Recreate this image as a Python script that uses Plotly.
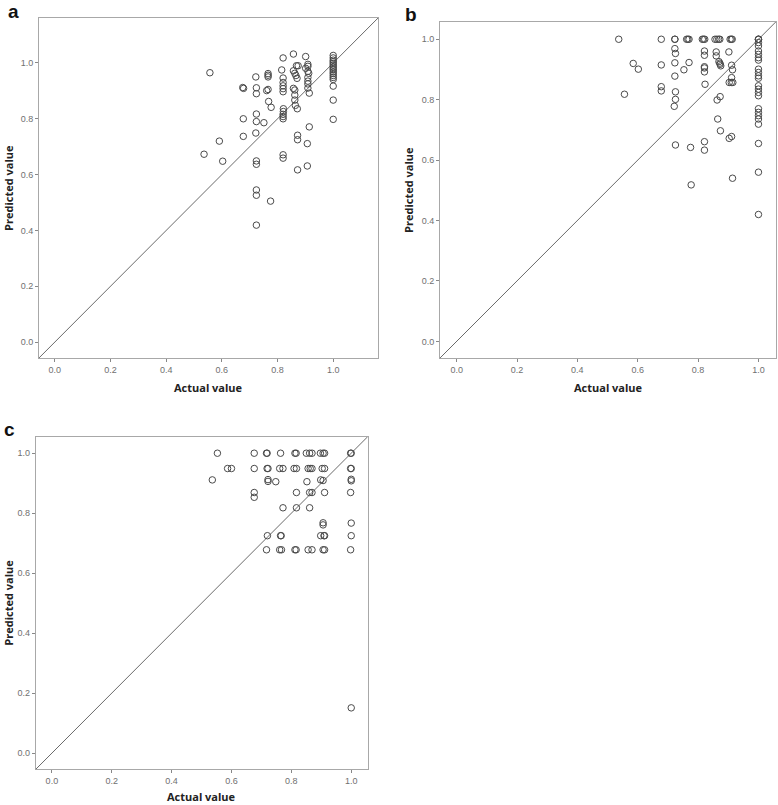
import plotly.graph_objects as go

# ---------------- data ----------------
a_actual = [0.536, 0.557, 0.591, 0.603, 0.675, 0.678, 0.677, 0.677,
            0.722, 0.724, 0.724, 0.724, 0.724, 0.722, 0.724, 0.724, 0.724, 0.724, 0.724,
            0.751, 0.766, 0.766, 0.766, 0.761, 0.766, 0.768, 0.777, 0.775,
            0.815, 0.820, 0.820, 0.820, 0.820, 0.820, 0.820,
            0.821, 0.821, 0.820, 0.820, 0.820, 0.820, 0.820,
            0.857, 0.857, 0.862, 0.866, 0.868, 0.857, 0.862, 0.862, 0.862, 0.864, 0.871,
            0.870, 0.872, 0.872, 0.872, 0.874,
            0.901, 0.901, 0.909, 0.909, 0.909, 0.912, 0.909, 0.909, 0.909, 0.909,
            0.914, 0.914, 0.907, 0.907,
            1.0, 1.0, 1.0, 1.0, 1.0, 1.0, 1.0, 1.0, 1.0, 1.0, 1.0, 1.0, 1.0, 1.0,
            1.0, 1.0, 1.0]
a_pred = [0.673, 0.965, 0.720, 0.648, 0.912, 0.909, 0.800, 0.737,
          0.950, 0.911, 0.890, 0.817, 0.790, 0.749, 0.649, 0.637, 0.545, 0.526, 0.419,
          0.786, 0.962, 0.956, 0.950, 0.901, 0.905, 0.862, 0.841, 0.505,
          0.975, 1.018, 0.946, 0.930, 0.918, 0.908, 0.897,
          0.836, 0.826, 0.816, 0.808, 0.800, 0.671, 0.659,
          1.032, 0.972, 0.963, 0.955, 0.990, 0.909, 0.903, 0.885, 0.867, 0.848, 0.836,
          0.945, 0.741, 0.725, 0.617, 0.990,
          1.023, 0.981, 0.995, 0.988, 0.970, 0.963, 0.948, 0.935, 0.925, 0.910,
          0.892, 0.771, 0.711, 0.631,
          1.027, 1.018, 1.010, 1.004, 0.998, 0.992, 0.986, 0.980, 0.975, 0.968, 0.962, 0.955, 0.948, 0.941,
          0.917, 0.867, 0.798]

b_actual = [0.537, 0.678, 0.723, 0.723, 0.762, 0.766, 0.770, 0.814, 0.818, 0.822,
            0.856, 0.862, 0.868, 0.872, 0.906, 0.910, 0.913,
            0.556, 0.585, 0.602,
            0.678, 0.678, 0.678,
            0.723, 0.725, 0.723, 0.723, 0.725, 0.725, 0.721, 0.725,
            0.753, 0.770, 0.775, 0.777,
            0.821, 0.821, 0.821, 0.821, 0.821, 0.823, 0.821, 0.821,
            0.860, 0.860, 0.869, 0.873, 0.875, 0.872,
            0.863, 0.873, 0.865, 0.874,
            0.902, 0.911, 0.914, 0.911, 0.903, 0.910, 0.915, 0.903, 0.911, 0.914,
            1.0, 1.0, 1.0, 1.0, 1.0, 1.0, 1.0, 1.0, 1.0, 1.0, 1.0, 1.0, 1.0,
            1.0, 1.0, 1.0, 1.0, 1.0, 1.0, 1.0, 1.0, 1.0, 1.0, 1.0, 1.0]
b_pred = [1.0, 1.0, 1.0, 1.0, 1.0, 1.0, 1.0, 1.0, 1.0, 1.0,
          1.0, 1.0, 1.0, 1.0, 1.0, 1.0, 1.0,
          0.818, 0.920, 0.901,
          0.915, 0.843, 0.829,
          0.969, 0.953, 0.922, 0.878, 0.826, 0.801, 0.778, 0.650,
          0.899, 0.923, 0.642, 0.518,
          0.961, 0.947, 0.909, 0.905, 0.892, 0.851, 0.661, 0.633,
          0.958, 0.945, 0.926, 0.917, 0.912, 0.921,
          0.799, 0.810, 0.736, 0.697,
          0.958, 0.914, 0.899, 0.873, 0.857, 0.857, 0.857, 0.672, 0.678, 0.540,
          1.0, 1.0, 1.0, 0.989, 0.978, 0.961, 0.950, 0.939, 0.931, 0.901, 0.890, 0.879, 0.871,
          0.846, 0.835, 0.824, 0.813, 0.770, 0.758, 0.747, 0.736, 0.719, 0.655, 0.560, 0.420]

c_actual = [0.553, 0.676, 0.717, 0.719, 0.764, 0.812, 0.816, 0.850, 0.861, 0.869, 0.897, 0.906, 0.911, 0.998, 1.0,
            0.587, 0.600, 0.676, 0.719, 0.722, 0.761, 0.772, 0.809, 0.817, 0.856, 0.863, 0.869, 0.903, 0.911, 0.998, 1.0,
            0.536, 0.722, 0.722, 0.748, 0.852, 0.898, 0.906, 1.0, 1.0,
            0.676, 0.676, 0.817, 0.861, 0.869, 0.911, 0.998,
            0.772, 0.817, 0.861,
            0.906, 0.906, 1.0,
            0.720, 0.764, 0.766, 0.898, 0.909, 0.911, 1.0,
            0.717, 0.761, 0.767, 0.812, 0.816, 0.856, 0.869, 0.906, 0.911, 0.998,
            1.0]
c_pred = [1.0] * 15 + [0.949] * 16 + \
         [0.911, 0.912, 0.906, 0.905, 0.905, 0.911, 0.909, 0.913, 0.908] + \
         [0.869, 0.853, 0.869, 0.869, 0.869, 0.869, 0.869] + \
         [0.818, 0.818, 0.818] + \
         [0.768, 0.761, 0.767] + \
         [0.725] * 7 + \
         [0.678] * 10 + \
         [0.151]

tick_vals = [0.0, 0.2, 0.4, 0.6, 0.8, 1.0]
tick_text = ["0.0", "0.2", "0.4", "0.6", "0.8", "1.0"]

panels = [
    # letter, actual, predicted, x-domain, y-domain, axis range, x-title offset, y-title offset (px)
    ("a", a_actual, a_pred, [0.0501, 0.4859], [0.5553, 0.9776], [-0.057, 1.161], 30, 31),
    ("b", b_actual, b_pred, [0.5656, 0.9974], [0.5553, 0.9730], [-0.055, 1.058], 30, 31),
    ("c", c_actual, c_pred, [0.0459, 0.4726], [0.0443, 0.4575], [-0.054, 1.055], 27, 28),
]

W, H = 778, 805
fig = go.Figure()

label_font = dict(family="Open Sans, Arial, sans-serif", size=11, color="#222222")
tick_font = dict(family="Liberation Sans, Arial, sans-serif", size=9, color="#707070")

for i, (letter, xs, ys, xd, yd, rng, xoff, yoff) in enumerate(panels):
    n = "" if i == 0 else str(i + 1)
    xa, ya = "x" + n, "y" + n
    # diagonal reference line (corner to corner of the axis range)
    fig.add_trace(go.Scatter(x=rng, y=rng, mode="lines", xaxis=xa, yaxis=ya,
                             line=dict(color="#6a6a6a", width=1), hoverinfo="skip",
                             showlegend=False))
    fig.add_trace(go.Scatter(x=xs, y=ys, mode="markers", xaxis=xa, yaxis=ya,
                             marker=dict(symbol="circle-open", size=6.5, color="#4a4a4a",
                                         line=dict(width=1)),
                             showlegend=False))
    axcommon = dict(range=rng, tickvals=tick_vals, ticktext=tick_text, ticks="outside",
                    ticklen=3, tickcolor="#888888", tickfont=tick_font, showgrid=False,
                    zeroline=False, showline=True, linecolor="#a8a8a8", linewidth=1,
                    mirror=True)
    fig.layout["xaxis" + n] = dict(domain=xd, anchor=ya, **axcommon)
    fig.layout["yaxis" + n] = dict(domain=yd, anchor=xa, **axcommon)

    # panel letter
    fig.add_annotation(text="<b>%s</b>" % letter, xref="paper", yref="paper",
                       x=xd[0] - 0.043 if letter != "b" else xd[0] - 0.047,
                       y=yd[1] + 0.024, xanchor="left", yanchor="top", showarrow=False,
                       font=dict(family="Arial, Liberation Sans, sans-serif", size=19, color="#111111"))
    # x-axis title
    fig.add_annotation(text="<b>Actual value</b>", xref="paper", yref="paper",
                       x=(xd[0] + xd[1]) / 2, y=yd[0] - xoff / H, xanchor="center",
                       yanchor="middle", showarrow=False, font=label_font)
    # y-axis title
    fig.add_annotation(text="<b>Predicted value</b>", xref="paper", yref="paper",
                       x=xd[0] - yoff / W, y=(yd[0] + yd[1]) / 2, xanchor="center",
                       yanchor="middle", textangle=-90, showarrow=False, font=label_font)

fig.update_layout(width=W, height=H, margin=dict(l=0, r=0, t=0, b=0),
                  paper_bgcolor="white", plot_bgcolor="white")

fig.write_html("out.html", config={"displayModeBar": False},
               post_script="document.body.style.margin='0';document.body.style.overflow='hidden';")
